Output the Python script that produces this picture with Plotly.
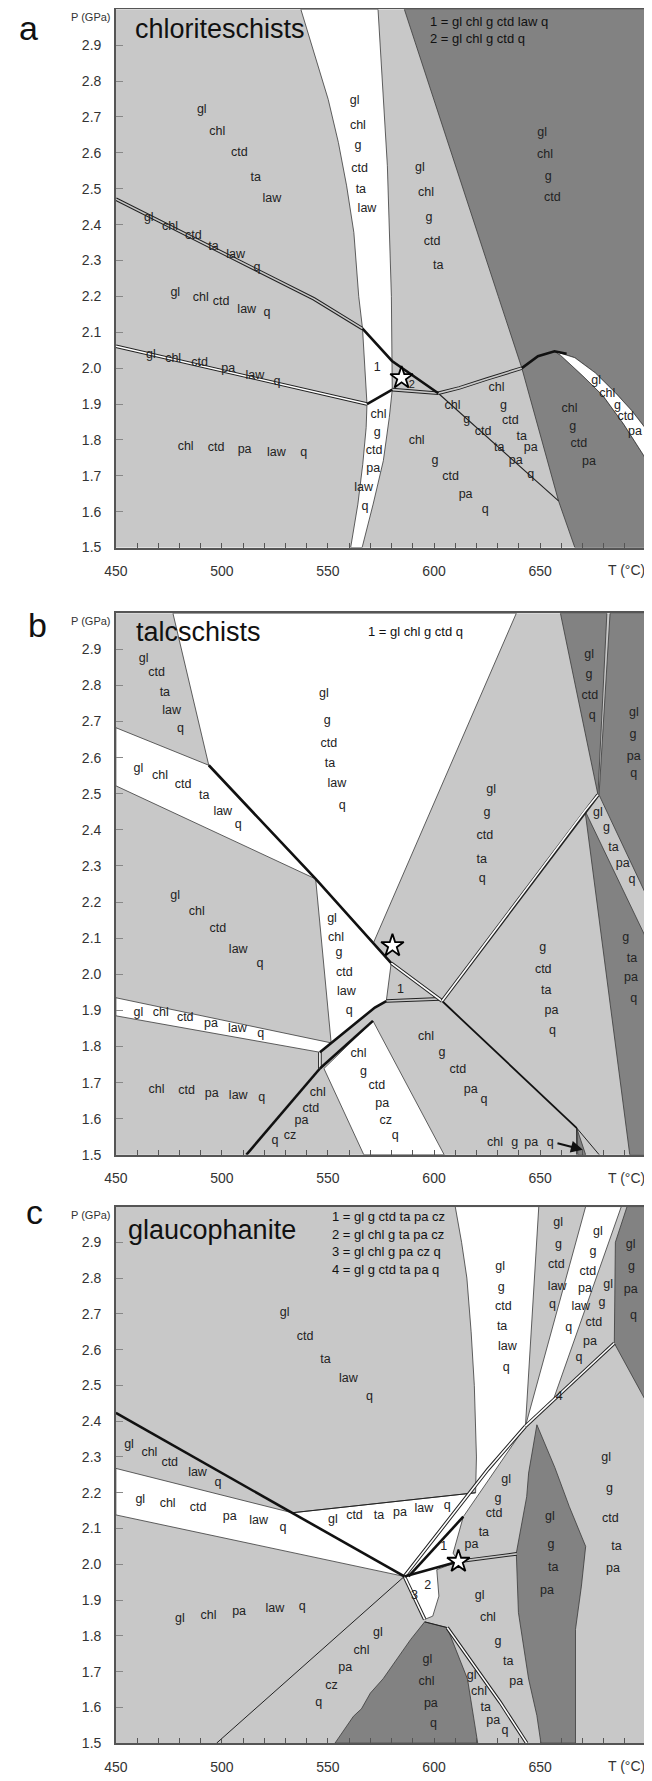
import plotly.graph_objects as go

# ---------------- colours ----------------
LIGHT = "#c8c8c8"
DARK = "#828282"
WHITE = "#ffffff"
EDGE = "#3a3a3a"

# ---------------- panel a (chloriteschists) ----------------
A_WHITE_BAND = [(537.2, 3.0), (550.1, 2.749), (554.9, 2.629), (558.8, 2.508), (562.2, 2.378), (564.5, 2.2),
                (566.3, 2.11), (568.4, 1.9), (568.0, 1.834), (566.4, 1.732), (564.1, 1.621), (560.7, 1.5),
                (566.1, 1.5), (571.3, 1.621), (576.1, 1.742), (578.9, 1.862), (580.3, 1.94), (580.0, 2.066),
                (579.9, 2.2), (578.0, 2.564), (576.1, 2.749), (573.6, 3.0)]
A_DARK_TOP = [(586, 3.0), (700, 3.0), (700, 1.830), (693.3, 1.881), (685.6, 1.931), (676.0, 1.987),
              (666.4, 2.029), (656.8, 2.047), (649, 2.033), (641.4, 2.0), (630.3, 2.2)]
A_WHITE_RIGHT = [(656.8, 2.047), (666.4, 2.029), (676.0, 1.987), (685.6, 1.931), (693.3, 1.881), (700, 1.830),
                 (700, 1.746), (689.4, 1.844), (679.8, 1.922), (670.2, 1.978), (659.6, 2.036)]
A_DARK_BOTTOM = [(641.4, 2.0), (649, 2.033), (656.8, 2.047), (659.6, 2.036), (670.2, 1.978), (679.8, 1.922),
                 (689.4, 1.844), (700, 1.746), (700, 1.5), (666.4, 1.5), (658.7, 1.63)]
A_DBL_GRAY = [[(450, 2.471), (543.4, 2.193), (566.3, 2.11)],
              [(580.3, 1.94), (602, 1.93)],
              [(602, 1.93), (612, 1.945), (625, 1.97), (641.4, 2.0)]]
A_DBL_WHITE = [[(450, 2.061), (568.4, 1.9)]]
A_THICK = [[(566.3, 2.11), (580.2, 2.02), (602, 1.93)],
           [(568.4, 1.9), (580.3, 1.94)],
           [(641.4, 2.0), (649, 2.033), (656.8, 2.047), (662.5, 2.040)]]
A_THIN = [[(602, 1.93), (658.7, 1.63)]]
A_STAR = (584.7, 1.973)
A_LABELS = [
    (490.5, 2.721, "gl"), (497.8, 2.658, "chl"), (508.2, 2.601, "ctd"), (515.9, 2.530, "ta"), (523.6, 2.471, "law"),
    (562.6, 2.744, "gl"), (564.1, 2.675, "chl"), (564.1, 2.619, "g"), (564.9, 2.556, "ctd"), (565.5, 2.497, "ta"),
    (568.4, 2.444, "law"),
    (593.3, 2.559, "gl"), (596.2, 2.488, "chl"), (597.6, 2.420, "g"), (599.1, 2.353, "ctd"), (602.0, 2.286, "ta"),
    (651.0, 2.655, "gl"), (652.3, 2.594, "chl"), (653.9, 2.533, "g"), (655.8, 2.474, "ctd"),
    (465.5, 2.420, "gl"), (475.5, 2.393, "chl"), (486.5, 2.369, "ctd"), (496.0, 2.339, "ta"), (506.5, 2.315, "law"),
    (516.5, 2.278, "q"),
    (478.0, 2.209, "gl"), (490.0, 2.197, "chl"), (499.6, 2.184, "ctd"), (511.7, 2.163, "law"), (521.3, 2.154, "q"),
    (466.5, 2.036, "gl"), (477.0, 2.027, "chl"), (489.5, 2.016, "ctd"), (503.0, 1.997, "pa"), (515.5, 1.978, "law"),
    (526.0, 1.962, "q"),
    (482.9, 1.780, "chl"), (497.3, 1.779, "ctd"), (510.7, 1.771, "pa"), (525.7, 1.765, "law"), (538.6, 1.763, "q"),
    (573.8, 1.869, "chl"), (573.2, 1.820, "g"), (571.8, 1.769, "ctd"), (571.3, 1.719, "pa"), (566.8, 1.666, "law"),
    (567.4, 1.614, "q"),
    (573.2, 2.001, "1"),
    (591.8, 1.797, "chl"), (600.5, 1.742, "g"), (607.8, 1.697, "ctd"), (614.9, 1.646, "pa"), (624.1, 1.606, "q"),
    (608.7, 1.894, "chl"), (615.4, 1.857, "g"), (623.1, 1.823, "ctd"), (630.8, 1.778, "ta"), (638.5, 1.742, "pa"),
    (645.6, 1.703, "q"),
    (629.5, 1.945, "chl"), (632.7, 1.896, "g"), (636.0, 1.853, "ctd"), (641.4, 1.808, "ta"), (645.6, 1.777, "pa"),
    (663.9, 1.886, "chl"), (665.4, 1.837, "g"), (668.3, 1.788, "ctd"), (673.1, 1.739, "pa"),
    (676.4, 1.964, "gl"), (681.7, 1.927, "chl"), (686.5, 1.894, "g"), (690.4, 1.864, "ctd"), (694.8, 1.821, "pa"),
]
A_SMALL = [(589.5, 1.952, "2")]
A_TITLE = "chloriteschists"
A_KEY = ["1 = gl chl g ctd law q", "2 = gl chl g ctd q"]

# ---------------- panel b (talcschists) ----------------
B_WHITE = [
    [(450, 2.683), (493.8, 2.579), (544.2, 2.264), (450, 2.522)],
    [(476.9, 3.0), (638.8, 3.0), (571.5, 2.088), (544.2, 2.264), (493.8, 2.579)],
    [(544.2, 2.264), (579.8, 2.031), (577.5, 1.926), (572.1, 1.908), (551.5, 1.81)],
    [(450, 1.935), (551.5, 1.81), (546.2, 1.784), (450, 1.885)],
    [(548.1, 1.739), (571.2, 1.871), (604.8, 1.5), (566.9, 1.5)],
]
B_DARK = [
    [(659.6, 3.0), (681.5, 3.0), (677.3, 2.497)],
    [(683, 3.0), (700, 3.0), (700, 2.22), (677.8, 2.497)],
    [(671.2, 2.453), (700, 2.10), (700, 1.5), (692.3, 1.5)],
    [(667.3, 1.574), (667.8, 1.5), (671.5, 1.5)],
]
B_DBL_WHITE = [[(579.8, 2.031), (603.8, 1.926)],
               [(603.8, 1.926), (671.2, 2.453), (677.3, 2.497)],
               [(546.2, 1.784), (546.2, 1.739)]]
B_DBL_GRAY = [[(577.5, 1.926), (602.9, 1.932)]]
B_THICK = [[(493.8, 2.579), (544.2, 2.264), (579.8, 2.031)],
           [(546.2, 1.784), (572.1, 1.908), (577.5, 1.926)],
           [(546.2, 1.739), (571.2, 1.871)],
           [(511.5, 1.5), (546.2, 1.739)]]
B_MEDIUM = [[(603.8, 1.926), (667.3, 1.574)]]
B_THIN = [[(667.3, 1.574), (677.9, 1.5)], [(667.3, 1.574), (667.3, 1.5)]]
B_STAR = (580.4, 2.079)
B_LABELS = [
    (463.1, 2.875, "gl"), (469.2, 2.834, "ctd"), (473.1, 2.779, "ta"), (476.3, 2.730, "law"), (480.4, 2.681, "q"),
    (460.6, 2.570, "gl"), (470.8, 2.550, "chl"), (481.7, 2.525, "ctd"), (491.7, 2.493, "ta"), (500.4, 2.450, "law"),
    (507.7, 2.415, "q"),
    (548.1, 2.776, "gl"), (549.6, 2.703, "g"), (550.4, 2.639, "ctd"), (551.0, 2.582, "ta"), (554.2, 2.528, "law"),
    (556.7, 2.467, "q"),
    (626.9, 2.511, "gl"), (625.0, 2.447, "g"), (624.0, 2.383, "ctd"), (622.5, 2.317, "ta"), (622.7, 2.265, "q"),
    (673.1, 2.884, "gl"), (673.1, 2.828, "g"), (673.5, 2.771, "ctd"), (674.6, 2.717, "q"),
    (694.2, 2.724, "gl"), (693.8, 2.664, "g"), (694.2, 2.603, "pa"), (694.2, 2.554, "q"),
    (677.3, 2.446, "gl"), (681.3, 2.406, "g"), (684.6, 2.350, "ta"), (689.0, 2.306, "pa"), (693.3, 2.261, "q"),
    (477.9, 2.218, "gl"), (488.1, 2.173, "chl"), (498.1, 2.127, "ctd"), (507.7, 2.068, "law"), (517.9, 2.029, "q"),
    (551.9, 2.154, "gl"), (553.8, 2.100, "chl"), (555.2, 2.058, "g"), (557.7, 2.004, "ctd"), (558.7, 1.951, "law"),
    (560.0, 1.899, "q"),
    (584.2, 1.956, "1"),
    (651.3, 2.072, "g"), (651.5, 2.013, "ctd"), (652.9, 1.953, "ta"), (655.4, 1.899, "pa"), (655.8, 1.842, "q"),
    (690.4, 2.100, "g"), (693.3, 2.042, "ta"), (692.9, 1.990, "pa"), (694.2, 1.932, "q"),
    (460.6, 1.894, "gl"), (471.2, 1.894, "chl"), (482.7, 1.878, "ctd"), (494.8, 1.862, "pa"), (507.3, 1.848, "law"),
    (518.3, 1.835, "q"),
    (469.2, 1.679, "chl"), (483.3, 1.677, "ctd"), (495.2, 1.668, "pa"), (507.7, 1.664, "law"), (518.8, 1.659, "q"),
    (545.2, 1.672, "chl"), (541.9, 1.627, "ctd"), (537.5, 1.593, "pa"), (532.1, 1.552, "cz"), (525.0, 1.538, "q"),
    (564.4, 1.780, "chl"), (566.7, 1.730, "g"), (573.1, 1.690, "ctd"), (575.6, 1.641, "pa"), (577.3, 1.595, "cz"),
    (581.7, 1.553, "q"),
    (596.2, 1.826, "chl"), (603.8, 1.782, "g"), (611.2, 1.736, "ctd"), (617.3, 1.681, "pa"), (623.5, 1.652, "q"),
    (628.8, 1.533, "chl"), (638.1, 1.533, "g"), (645.8, 1.533, "pa"), (654.8, 1.533, "q"),
]
B_ARROW = ((657.5, 1.533), (670.2, 1.514))
B_TITLE = "talcschists"
B_KEY = ["1 = gl chl g ctd q"]

# ---------------- panel c (glaucophanite) ----------------
C_WHITE = [
    [(610, 3.0), (613, 2.9), (615.5, 2.8), (617.5, 2.65), (619, 2.5), (620, 2.3), (619.6, 2.2), (533.1, 2.144),
     (586, 1.966), (595.6, 1.846), (599.4, 1.855), (602.3, 1.911), (601.3, 1.985), (611.5, 2.008), (609, 2.031),
     (613.8, 2.133), (643.1, 2.386), (649.4, 3.0)],
    [(450, 2.268), (533.1, 2.144), (586, 1.966), (450, 2.138)],
    [(671.5, 3.0), (688.3, 3.0), (656.2, 2.459), (643.1, 2.386)],
]
C_DARK = [
    [(691, 3.0), (700, 3.0), (700, 2.455), (685, 2.618), (685.5, 2.9)],
    [(648.5, 2.39), (644.6, 2.255), (643.7, 2.189), (638.8, 2.031), (639.8, 1.865), (644.6, 1.679), (648.5, 1.577),
     (650.4, 1.5), (666.7, 1.5), (666.7, 1.818), (669.5, 1.939), (671.5, 2.05), (663.8, 2.161), (657, 2.27)],
    [(595.6, 1.839), (606.2, 1.823), (615.8, 1.679), (620.6, 1.5), (553.3, 1.5), (558, 1.54), (562, 1.575),
     (565.8, 1.596), (570, 1.64), (576, 1.68), (581.2, 1.725), (589, 1.79)],
]
C_DBL_WHITE = [[(586, 1.966), (625.4, 2.265), (643.1, 2.386)],
               [(643.1, 2.386), (685, 2.618)],
               [(606.2, 1.823), (617.7, 1.726), (631.2, 1.614), (643.7, 1.5)],
               [(586, 1.966), (595.6, 1.846)]]
C_DBL_GRAY = [[(611.5, 2.008), (639, 2.029)]]
C_THICK = [[(450, 2.423), (586, 1.966)],
           [(588, 1.966), (613.8, 2.133)],
           [(586, 1.966), (611.5, 2.008)]]
C_THIN = [[(533.1, 2.144), (619.6, 2.2)], [(497.5, 1.5), (586, 1.966)], [(595.6, 1.839), (606.2, 1.823)]]
C_STAR = (611.5, 2.008)
C_LABELS = [
    (529.6, 2.704, "gl"), (539.2, 2.637, "ctd"), (548.8, 2.572, "ta"), (559.6, 2.518, "law"), (569.6, 2.467, "q"),
    (631.2, 2.830, "gl"), (631.7, 2.772, "g"), (632.7, 2.719, "ctd"), (632.1, 2.665, "ta"), (634.6, 2.609, "law"),
    (634.0, 2.550, "q"),
    (658.5, 2.953, "gl"), (658.7, 2.893, "g"), (657.7, 2.837, "ctd"), (658.1, 2.776, "law"), (655.8, 2.725, "q"),
    (677.3, 2.930, "gl"), (675.0, 2.874, "g"), (672.5, 2.818, "ctd"), (671.2, 2.769, "pa"), (669.2, 2.720, "law"),
    (663.5, 2.660, "q"),
    (682.1, 2.781, "gl"), (679.2, 2.730, "g"), (675.4, 2.674, "ctd"), (673.5, 2.623, "pa"), (668.3, 2.576, "q"),
    (692.7, 2.893, "gl"), (693.1, 2.830, "g"), (692.7, 2.767, "pa"), (694.0, 2.694, "q"),
    (659.0, 2.469, "4"),
    (681.2, 2.297, "gl"), (682.7, 2.212, "g"), (683.1, 2.126, "ctd"), (686.0, 2.048, "ta"), (684.4, 1.987, "pa"),
    (654.6, 2.133, "gl"), (655.2, 2.054, "g"), (656.2, 1.991, "ta"), (653.3, 1.925, "pa"),
    (634.0, 2.237, "gl"), (630.2, 2.184, "g"), (628.3, 2.141, "ctd"), (623.5, 2.087, "ta"), (617.7, 2.054, "pa"),
    (456.2, 2.334, "gl"), (465.8, 2.311, "chl"), (475.4, 2.283, "ctd"), (488.5, 2.256, "law"), (498.1, 2.228, "q"),
    (461.5, 2.180, "gl"), (474.4, 2.170, "chl"), (488.8, 2.158, "ctd"), (503.7, 2.133, "pa"), (517.3, 2.121, "law"),
    (528.8, 2.101, "q"),
    (552.3, 2.124, "gl"), (562.5, 2.135, "ctd"), (574.0, 2.135, "ta"), (584.0, 2.144, "pa"), (595.2, 2.156, "law"),
    (606.2, 2.163, "q"),
    (604.6, 2.050, "1"), (597.0, 1.940, "2"), (590.8, 1.911, "3"),
    (480.2, 1.846, "gl"), (493.7, 1.855, "chl"), (508.1, 1.866, "pa"), (525.0, 1.874, "law"), (537.9, 1.880, "q"),
    (573.5, 1.809, "gl"), (565.8, 1.758, "chl"), (558.1, 1.710, "pa"), (551.7, 1.659, "cz"), (545.6, 1.612, "q"),
    (596.9, 1.733, "gl"), (596.5, 1.670, "chl"), (598.5, 1.610, "pa"), (599.8, 1.554, "q"),
    (617.7, 1.688, "gl"), (621.2, 1.644, "chl"), (624.4, 1.598, "ta"), (627.9, 1.561, "pa"), (633.5, 1.533, "q"),
    (621.5, 1.911, "gl"), (625.4, 1.849, "chl"), (630.2, 1.784, "g"), (635.0, 1.727, "ta"), (638.8, 1.672, "pa"),
]
C_TITLE = "glaucophanite"
C_KEY = ["1 = gl g ctd ta pa cz", "2 = gl chl g ta pa cz", "3 = gl chl g pa cz q", "4 = gl g ctd ta pa q"]

# ---------------- axes ----------------
T_RANGE = [450, 700]
P_RANGE = [1.5, 3.0]
T_TICKS = [450, 500, 550, 600, 650]
P_TICKS = [1.5, 1.6, 1.7, 1.8, 1.9, 2.0, 2.1, 2.2, 2.3, 2.4, 2.5, 2.6, 2.7, 2.8, 2.9]

# the page body adds an 8 px margin; size the figure so the page is 652 x 1781
OFF = 8
W, H = 652 - OFF, 1781 - OFF
PLOT_LEFT, PLOT_RIGHT = 105.7, 646.0                      # page pixels
PANEL_PX = [(9.3, 550.0), (616.0, 1160.0), (1212.0, 1751.0)]  # top, bottom page pixels
LABEL_FONT = "Liberation Sans Narrow, Arial Narrow, Liberation Sans, sans-serif"


def fx(px):
    return (px - OFF) / W


def fy(py):
    return 1 - (py - OFF) / H


fig = go.Figure()


def xs(pts):
    return [p[0] for p in pts]


def ys(pts):
    return [p[1] for p in pts]


def poly(pts, color, ax):
    fig.add_trace(go.Scatter(x=xs(pts) + [pts[0][0]], y=ys(pts) + [pts[0][1]], fill="toself", fillcolor=color,
                             mode="lines", line=dict(color=EDGE, width=0.8), hoverinfo="skip", showlegend=False,
                             xaxis="x" + ax, yaxis="y" + ax))


def line(pts, color, width, ax):
    fig.add_trace(go.Scatter(x=xs(pts), y=ys(pts), mode="lines", line=dict(color=color, width=width),
                             hoverinfo="skip", showlegend=False, xaxis="x" + ax, yaxis="y" + ax))


def dbl(pts, inner, ax, outer_w=3.6, inner_w=1.6):
    line(pts, "#222222", outer_w, ax)
    line(pts, inner, inner_w, ax)


def labels(lst, ax, size=12.5):
    fig.add_trace(go.Scatter(x=[l[0] for l in lst], y=[l[1] for l in lst], text=[l[2] for l in lst],
                             mode="text", textposition="middle center",
                             textfont=dict(family=LABEL_FONT, size=size, color="#222222"),
                             hoverinfo="skip", showlegend=False, xaxis="x" + ax, yaxis="y" + ax))


def star(pt, ax):
    fig.add_trace(go.Scatter(x=[pt[0]], y=[pt[1]], mode="markers",
                             marker=dict(symbol="star", size=17, color="white", line=dict(color="black", width=1.8)),
                             hoverinfo="skip", showlegend=False, xaxis="x" + ax, yaxis="y" + ax))


# panel a
pa = ""
poly(A_WHITE_BAND, WHITE, pa)
poly(A_DARK_TOP, DARK, pa)
poly(A_DARK_BOTTOM, DARK, pa)
poly(A_WHITE_RIGHT, WHITE, pa)
for l in A_THIN:
    line(l, "#222222", 1.1, pa)
for l in A_DBL_GRAY:
    dbl(l, LIGHT, pa)
for l in A_DBL_WHITE:
    dbl(l, WHITE, pa)
for l in A_THICK:
    line(l, "#111111", 2.6, pa)
labels(A_LABELS, pa)
labels(A_SMALL, pa, 11)
star(A_STAR, pa)

# panel b
pb = "2"
for p in B_WHITE:
    poly(p, WHITE, pb)
for p in B_DARK:
    poly(p, DARK, pb)
for l in B_THIN:
    line(l, "#222222", 1.0, pb)
for l in B_MEDIUM:
    line(l, "#111111", 1.8, pb)
for l in B_DBL_GRAY:
    dbl(l, LIGHT, pb)
for l in B_DBL_WHITE:
    dbl(l, WHITE, pb)
for l in B_THICK:
    line(l, "#111111", 2.6, pb)
labels(B_LABELS, pb)
star(B_STAR, pb)

# panel c
pc = "3"
for p in C_WHITE:
    poly(p, WHITE, pc)
for p in C_DARK:
    poly(p, DARK, pc)
for l in C_THIN:
    line(l, "#222222", 1.0, pc)
for l in C_DBL_GRAY:
    dbl(l, LIGHT, pc)
for l in C_DBL_WHITE:
    dbl(l, WHITE, pc)
for l in C_THICK:
    line(l, "#111111", 2.6, pc)
labels(C_LABELS, pc)
star(C_STAR, pc)

annotations = []
layout_axes = {}
for i, (top, bot) in enumerate(PANEL_PX):
    suf = "" if i == 0 else str(i + 1)
    layout_axes["xaxis" + suf] = dict(
        domain=[fx(PLOT_LEFT), fx(PLOT_RIGHT)], range=T_RANGE, anchor="y" + suf, tickvals=T_TICKS, ticks="",
        showline=True, mirror=True, linecolor="#555555", linewidth=1.5, showgrid=False, zeroline=False,
        tickfont=dict(family=LABEL_FONT, size=14, color="#333333"), ticklabelstandoff=10,
        minor=dict(ticks="inside", dtick=10, tick0=450, ticklen=5, tickcolor="#555555", showgrid=False))
    layout_axes["yaxis" + suf] = dict(
        domain=[fy(bot), fy(top)], range=P_RANGE, anchor="x" + suf, tickvals=P_TICKS,
        ticktext=["%.1f" % v for v in P_TICKS],
        ticks="inside", ticklen=7, tickcolor="#888888", showline=True, mirror=True, linecolor="#555555",
        linewidth=1.5, showgrid=False, zeroline=False, ticklabelstandoff=10,
        tickfont=dict(family=LABEL_FONT, size=14, color="#333333"))
    annotations.append(dict(xref="paper", yref="paper", x=fx(647), y=fy(bot + 23), text="T (°C)",
                            showarrow=False, xanchor="right", yanchor="middle",
                            font=dict(family=LABEL_FONT, size=14, color="#333333")))
    annotations.append(dict(xref="paper", yref="paper", x=fx(103), y=fy(top + 8), text="P (GPa)",
                            showarrow=False, xanchor="right", yanchor="middle",
                            font=dict(family=LABEL_FONT, size=11, color="#333333")))

# panel letters
for letter, (px, py) in zip(["a", "b", "c"], [(17, 8), (26, 608), (23, 1197)]):
    annotations.append(dict(xref="paper", yref="paper", x=fx(px), y=fy(py), text=letter, showarrow=False,
                            xanchor="center", yanchor="top", borderpad=0,
                            font=dict(family="Liberation Sans, Arial, sans-serif", size=34, color="#111111")))

# titles and keys
for suf, title, tx, ty in [("", A_TITLE, 458.0, 2.944), ("2", B_TITLE, 458.5, 2.949), ("3", C_TITLE, 455.0, 2.934)]:
    annotations.append(dict(xref="x" + suf, yref="y" + suf, x=tx, y=ty, text=title, showarrow=False,
                            xanchor="left", yanchor="middle",
                            font=dict(family="Liberation Sans, Arial, sans-serif", size=27, color="#111111")))
for suf, keys, kx, ky0, dy in [("", A_KEY, 597.2, 2.967, 0.048), ("2", B_KEY, 567.7, 2.950, 0.05),
                               ("3", C_KEY, 551.0, 2.972, 0.049)]:
    for j, k in enumerate(keys):
        annotations.append(dict(xref="x" + suf, yref="y" + suf, x=kx, y=ky0 - j * dy, text=k, showarrow=False,
                                xanchor="left", yanchor="middle",
                                font=dict(family=LABEL_FONT, size=13, color="#111111")))

annotations.append(dict(xref="x2", yref="y2", axref="x2", ayref="y2", x=B_ARROW[1][0], y=B_ARROW[1][1],
                        ax=B_ARROW[0][0], ay=B_ARROW[0][1], text="", showarrow=True, arrowhead=2,
                        arrowsize=1.2, arrowwidth=2, arrowcolor="#111111"))

fig.update_layout(width=W, height=H, margin=dict(l=0, r=0, t=0, b=0), plot_bgcolor=LIGHT,
                  paper_bgcolor="white", showlegend=False, annotations=annotations, **layout_axes)

fig.write_html("out.html")
